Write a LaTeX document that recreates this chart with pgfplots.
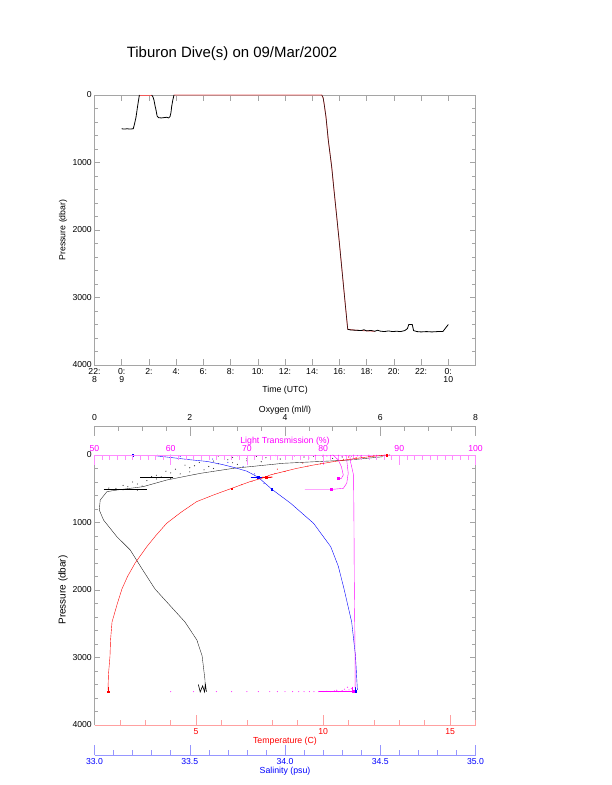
\documentclass[border=0pt]{standalone}
\usepackage{fontspec}
\setmainfont{Liberation Sans}
\usepackage{pgfplots}
\pgfplotsset{compat=1.18}
\definecolor{axgray}{RGB}{165,165,165}
\definecolor{mag}{RGB}{255,0,255}
\definecolor{maglt}{RGB}{255,140,255}
\definecolor{redlt}{RGB}{255,160,160}
\definecolor{bluelt}{RGB}{150,150,255}
\definecolor{trackred}{RGB}{240,90,90}
\pgfplotsset{
  base/.style={scale only axis, width=381bp, height=270bp, anchor=south west,
    /pgf/number format/assume math mode=true,
    /pgf/number format/1000 sep={},
    scaled ticks=false, tick align=inside, clip=false,
    tick label style={font=\fontsize{8.7}{7.6}\selectfont},
    label style={font=\fontsize{8.8}{10}\selectfont},
    axis line style={line width=0.6bp}},
  prof/.style={base, y dir=reverse, ymin=0, ymax=4000},
  dots/.style={only marks, mark=*, mark size=0.3bp, #1, opacity=0.7},
  blob/.style={only marks, mark=square*, mark size=0.9bp, #1},
}
\begin{document}
\begin{tikzpicture}
\path[use as bounding box] (0,0) rectangle (612bp,785bp);

% ---------------- top panel: pressure vs time ----------------
\begin{axis}[base, at={(94.5bp,420bp)},
  xmin=-2, xmax=26, ymin=0, ymax=4000, y dir=reverse,
  axis line style={axgray},
  xtick style={axgray, line width=0.5bp}, ytick style={axgray, line width=0.5bp},
  xtick={-2,0,...,24},
  xticklabels={{22:\\8},{0:\\9},{2:},{4:},{6:},{8:},{10:},{12:},{14:},{16:},{18:},{20:},{22:},{0:\\10}},
  xticklabel style={align=center, anchor=north, inner sep=0pt, yshift=-3.6bp},
  ytick={0,1000,...,4000}, minor y tick num=4,
  major tick length=5.5bp, minor tick length=3.5bp,
  yticklabel style={inner sep=0pt, xshift=-2.5bp},
  title={Tiburon Dive(s) on 09/Mar/2002},
  title style={at={(axis description cs:0.361,1.1296)}, anchor=center, font=\fontsize{15}{16}\selectfont},
  xlabel={Time (UTC)},
  xlabel style={at={(axis description cs:0.5,-0.0926)}, anchor=center},
  ylabel={Pressure (dbar)},
  ylabel style={at={(axis description cs:-0.0827,0.5)}, anchor=center},
]
\addplot[trackred, line width=0.6bp] coordinates {(1.3,0)(2.2,0)};
\addplot[trackred, line width=0.8bp] coordinates {
(3.84,0)(14.70,0)(14.80,40)(14.87,123)(15.01,321)(15.18,667)(15.43,1062)(15.60,1407)
(15.80,1800)(16.00,2200)(16.20,2620)(16.40,3040)(16.61,3471)(17.2,3485)(18.6,3500)};
\addplot[black, line width=0.8bp] coordinates {
(0.0,500)(0.2,505)(0.4,500)(0.6,505)(0.85,500)(0.95,420)(1.05,330)(1.15,190)(1.25,60)(1.3,0)};
\addplot[black, line width=0.8bp] coordinates {
(2.2,0)(2.3,30)(2.37,74)(2.45,160)(2.52,222)(2.6,310)(2.7,335)(2.9,340)(3.1,335)(3.3,330)
(3.45,340)(3.55,320)(3.62,260)(3.67,173)(3.75,80)(3.84,0)};
\addplot[black, line width=0.6bp, opacity=0.8] coordinates {
(14.70,0)(14.80,40)(14.87,123)(15.01,321)(15.18,667)(15.43,1062)(15.60,1407)
(15.80,1800)(16.00,2200)(16.20,2620)(16.40,3040)(16.61,3471)};
\addplot[black, line width=0.8bp] coordinates {
(16.61,3471)(16.8,3480)(17.2,3485)(17.6,3490)(17.8,3478)(18.0,3495)(18.3,3488)(18.6,3500)
(18.8,3485)(19.0,3498)(19.3,3505)(19.6,3495)(19.9,3505)(20.2,3500)(20.5,3505)(20.8,3490)
(21.0,3460)(21.1,3400)(21.35,3400)(21.45,3490)(21.7,3505)(22.0,3510)(22.4,3505)(22.8,3510)
(23.2,3505)(23.6,3505)(24.0,3400)};
\end{axis}

% ---------------- bottom panel: profiles ----------------
% pressure axis (left/right) with oxygen data, 0-8 ml/l
\begin{axis}[prof, at={(94.5bp,60bp)}, xmin=0, xmax=8,
  axis x line=none, axis y line=box,
  y axis line style={axgray}, ytick style={axgray, line width=0.5bp},
  ytick={0,1000,...,4000}, minor y tick num=4,
  major tick length=5.5bp, minor tick length=3.5bp,
  yticklabel style={inner sep=0pt, xshift=-2.5bp},
  ylabel={Pressure (dbar)},
  ylabel style={at={(axis description cs:-0.0827,0.5)}, anchor=center},
]
\addplot[black!85, line width=0.4bp] coordinates {
(6.06,25)(5.36,74)(3.96,123)(2.91,198)(2.22,272)(1.52,370)(1.02,469)(0.47,519)(0.26,543)
(0.12,667)(0.10,815)(0.19,963)(0.47,1210)(0.75,1407)(1.01,1700)(1.27,1985)(1.48,2148)
(1.90,2474)(2.15,2741)(2.26,2978)(2.32,3333)(2.32,3481)};
\addplot[dots=black] coordinates {
(2.6,15)(3.0,10)(3.4,20)(3.8,8)(4.2,12)(4.6,18)(5.0,6)(5.4,14)(5.8,10)(6.2,4)(6.5,9)
(4.4,30)(3.6,40)(3.2,55)(4.8,25)(5.6,22)(2.9,35)(4.0,5)(5.2,30)(4.5,45)(3.9,60)(5.0,50)
(2.8,70)(2.5,90)(3.2,85)(2.2,110)(2.6,130)(1.9,150)(2.4,170)(2.0,190)(1.7,210)(2.3,220)
(1.5,240)(2.0,250)(1.8,280)(1.3,300)(2.5,200)(3.0,140)(1.6,265)(2.1,160)(3.5,100)(2.9,115)
(1.2,320)(1.4,325)(1.1,380)(0.8,400)(0.9,430)(0.6,450)(0.7,470)(1.0,460)(0.45,495)(0.3,490)
(1.3,355)(1.6,345)(0.9,520)(0.6,515)};
\addplot[black, line width=0.9bp] coordinates {(0.96,336)(1.65,336)};
\addplot[black, line width=0.9bp] coordinates {(0.19,508)(1.10,508)};
\addplot[black, line width=0.6bp] coordinates {
(2.18,3400)(2.22,3510)(2.27,3420)(2.31,3510)(2.33,3400)(2.35,3510)};
\end{axis}

% salinity data (hidden axis)
\begin{axis}[prof, at={(94.5bp,60bp)}, xmin=33, xmax=35, hide axis]
\addplot[blue, line width=0.4bp] coordinates {
(33.30,5)(33.41,40)(33.50,70)(33.59,95)(33.67,140)(33.74,190)(33.80,240)(33.86,331)
(33.93,505)(34.03,716)(34.15,1012)(34.24,1358)(34.28,1650)(34.31,1985)(34.35,2474)
(34.37,2978)(34.38,3481)};
\addplot[dots=blue] coordinates {
(33.20,3)(33.33,5)(33.36,10)(33.40,4)(33.45,20)(33.52,30)(33.62,60)(33.70,110)(33.78,170)
(33.84,280)(33.89,420)(33.28,8)};
\addplot[blob=blue] coordinates {(33.20,2)(33.86,331)(33.93,505)(34.37,3500)};
\addplot[blue, line width=1bp] coordinates {(33.82,331)(33.90,331)};
\addplot[blue, line width=0.8bp] coordinates {(34.37,3440)(34.37,3510)};
\end{axis}

% light transmission axis (top, magenta) with its data
\begin{axis}[prof, at={(94.5bp,60bp)}, xmin=50, xmax=100,
  axis x line*=top, axis y line=none,
  x axis line style={maglt}, xtick style={maglt, line width=0.5bp},
  xtick={50,60,...,100}, minor x tick num=9,
  major tick length=10bp, minor tick length=5bp,
  xticklabel style={mag, inner sep=0pt, yshift=2.9bp},
  xlabel={Light Transmission (\%)},
  xlabel style={mag, at={(axis description cs:0.5,1)}, anchor=center, yshift=13.3bp},
]
\addplot[mag, line width=0.4bp] coordinates {
(83.5,0)(83.6,100)(84.0,300)(84.05,1000)(84.1,2000)(84.2,3000)(84.2,3450)};
\addplot[mag, line width=0.4bp] coordinates {
(81.3,0)(82.0,74)(82.4,173)(82.65,296)(82.4,346)(82.0,346)};
\addplot[mag, line width=0.4bp] coordinates {
(83.1,74)(83.3,271)(83.1,419)(82.65,494)(81.3,508)(77.6,508)};
\addplot[dots=mag] coordinates {
(79,5)(80,2)(81,8)(82,4)(83,10)(84,3)(85,6)(86,2)(87,4)(88,1)(80.5,15)(82.5,20)(84.5,12)
(60,3506)(63,3506)(66,3506)(68,3506)(70,3506)(71.5,3506)(73,3506)(74,3506)(75,3506)
(76,3506)(76.8,3506)(77.5,3506)(78.2,3506)(78.8,3506)(79.4,3506)(80,3506)(80.5,3500)
(81,3506)(81.5,3495)(82,3506)(82.5,3490)(83,3500)(83.4,3480)(83.7,3460)(82.8,3470)
(81.8,3485)(83.2,3440)};
\addplot[mag, line width=1.2bp] coordinates {(79.5,3506)(83.9,3506)};
\addplot[mag, line width=1bp] coordinates {(83.8,3430)(83.8,3506)};
\addplot[blob=mag] coordinates {(82.0,340)(81.1,508)(83.9,3500)};
\end{axis}

% temperature axis (bottom, red) with its data
\begin{axis}[prof, at={(94.5bp,60bp)}, xmin=1, xmax=16,
  axis x line*=bottom, axis y line=none,
  x axis line style={redlt}, xtick style={redlt, line width=0.5bp},
  xtick={5,10,15}, minor xtick={2,3,4,6,7,8,9,11,12,13,14,16},
  major tick length=10bp, minor tick length=5bp,
  xticklabel style={red, anchor=north, inner sep=0pt, yshift=-3.6bp},
  xlabel={Temperature (C)},
  xlabel style={red, at={(axis description cs:0.5,0)}, anchor=center, yshift=-16.7bp},
]
\addplot[red, line width=0.4bp] coordinates {
(12.5,0)(12.2,10)(11.5,40)(10.4,99)(9.6,150)(8.96,198)(8.4,250)(7.91,296)(7.71,331)(7.12,395)
(6.40,494)(5.70,590)(5.02,691)(4.40,850)(3.84,1012)(3.40,1200)(3.06,1358)(2.60,1600)(2.30,1800)
(2.08,1985)(1.90,2200)(1.69,2474)(1.63,2750)(1.61,2978)(1.55,3250)(1.53,3481)};
\addplot[dots=red] coordinates {
(12.6,2)(12.3,8)(11.8,20)(11.3,40)(10.8,65)(9.9,130)(9.4,165)(8.5,245)(8.1,275)(7.2,390)
(6.8,440)(11.0,30)(12.0,5)(9.2,120)(8.2,210)};
\addplot[red, line width=1bp] coordinates {(7.6,333)(8.0,329)};
\addplot[red, line width=0.8bp] coordinates {(1.55,3440)(1.55,3510)};
\addplot[blob=red] coordinates {(7.75,331)(6.40,500)(1.55,3506)(12.5,2)};
\end{axis}

% oxygen axis (separate, above the box)
\begin{axis}[base, at={(94.5bp,349bp)}, height=10bp, xmin=0, xmax=8, ymin=0, ymax=1,
  axis x line*=top, axis y line=none,
  x axis line style={axgray}, xtick style={axgray, line width=0.5bp},
  xtick={0,2,...,8}, minor x tick num=3,
  major tick length=10bp, minor tick length=5bp,
  xticklabel style={inner sep=0pt, yshift=4.9bp},
  xlabel={Oxygen (ml/l)},
  xlabel style={at={(axis description cs:0.5,1)}, anchor=center, yshift=15.5bp},
]
\end{axis}

% salinity axis (separate, below the box)
\begin{axis}[base, at={(94.5bp,30bp)}, height=10bp, xmin=33, xmax=35, ymin=0, ymax=1,
  axis x line*=bottom, axis y line=none,
  x axis line style={bluelt}, xtick style={bluelt, line width=0.5bp},
  xtick={33,33.5,...,35}, minor x tick num=4,
  major tick length=10bp, minor tick length=5bp,
  xticklabel style={blue, anchor=north, inner sep=0pt, yshift=-3.6bp,
    /pgf/number format/.cd, fixed, fixed zerofill, precision=1},
  xlabel={Salinity (psu)},
  xlabel style={blue, at={(axis description cs:0.5,0)}, anchor=center, yshift=-16.7bp},
]
\end{axis}
\end{tikzpicture}
\end{document}
